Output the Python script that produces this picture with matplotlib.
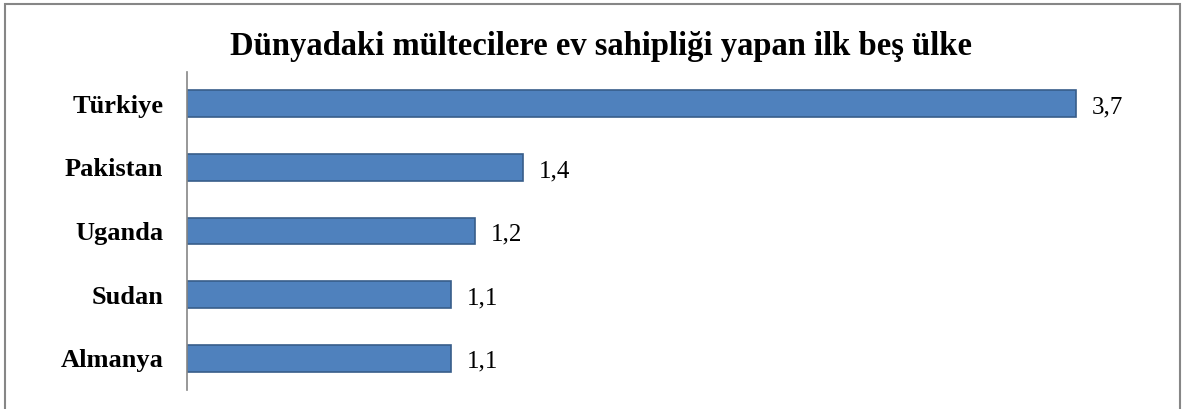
import matplotlib
matplotlib.use("Agg")
import matplotlib.pyplot as plt
from matplotlib.patches import Rectangle

countries = ["Türkiye", "Pakistan", "Uganda", "Sudan", "Almanya"]
refugees = [3.7, 1.4, 1.2, 1.1, 1.1]
value_labels = ["3,7", "1,4", "1,2", "1,1", "1,1"]
title = "Dünyadaki mültecilere ev sahipliği yapan ilk beş ülke"

W, H = 1187, 409
fig = plt.figure(figsize=(W / 100, H / 100), dpi=100)
fig.patch.set_facecolor("white")

# outer frame (bottom edge falls just outside the picture)
fig.add_artist(Rectangle((5 / W, -0.02), (1180 - 5) / W, 1.02 - 4 / H,
                         transform=fig.transFigure, fill=False,
                         edgecolor="#868686", linewidth=1.5))

ax = fig.add_axes([187 / W, 1 - 390 / H, (1148 - 187) / W, (390 - 72) / H])
y = list(range(len(countries)))
ax.barh(y, refugees, height=0.42, color="#4F81BD", edgecolor="#385D8A",
        linewidth=1.2)
ax.set_ylim(len(countries) - 0.5, -0.5)
ax.set_xlim(0, 4)

for yi, v, lab in zip(y, refugees, value_labels):
    ax.annotate(lab, (v, yi), xytext=(11.5, -7), textcoords="offset points",
                va="baseline", ha="left", fontsize=18, family="Liberation Serif")

ax.set_yticks(y)
ax.set_yticklabels(countries, fontsize=19, fontweight="bold",
                   family="Liberation Serif")
ax.tick_params(axis="y", length=0, pad=17)
ax.set_xticks([])
ax.spines[["top", "right", "bottom"]].set_visible(False)
ax.spines["left"].set_color("#868686")
ax.spines["left"].set_linewidth(1.2)

fig.text(601 / W, 1 - 55 / H, title, ha="center", va="baseline", fontsize=23.5,
         fontweight="bold", family="Liberation Serif")

fig.savefig("out.png", dpi=100)
